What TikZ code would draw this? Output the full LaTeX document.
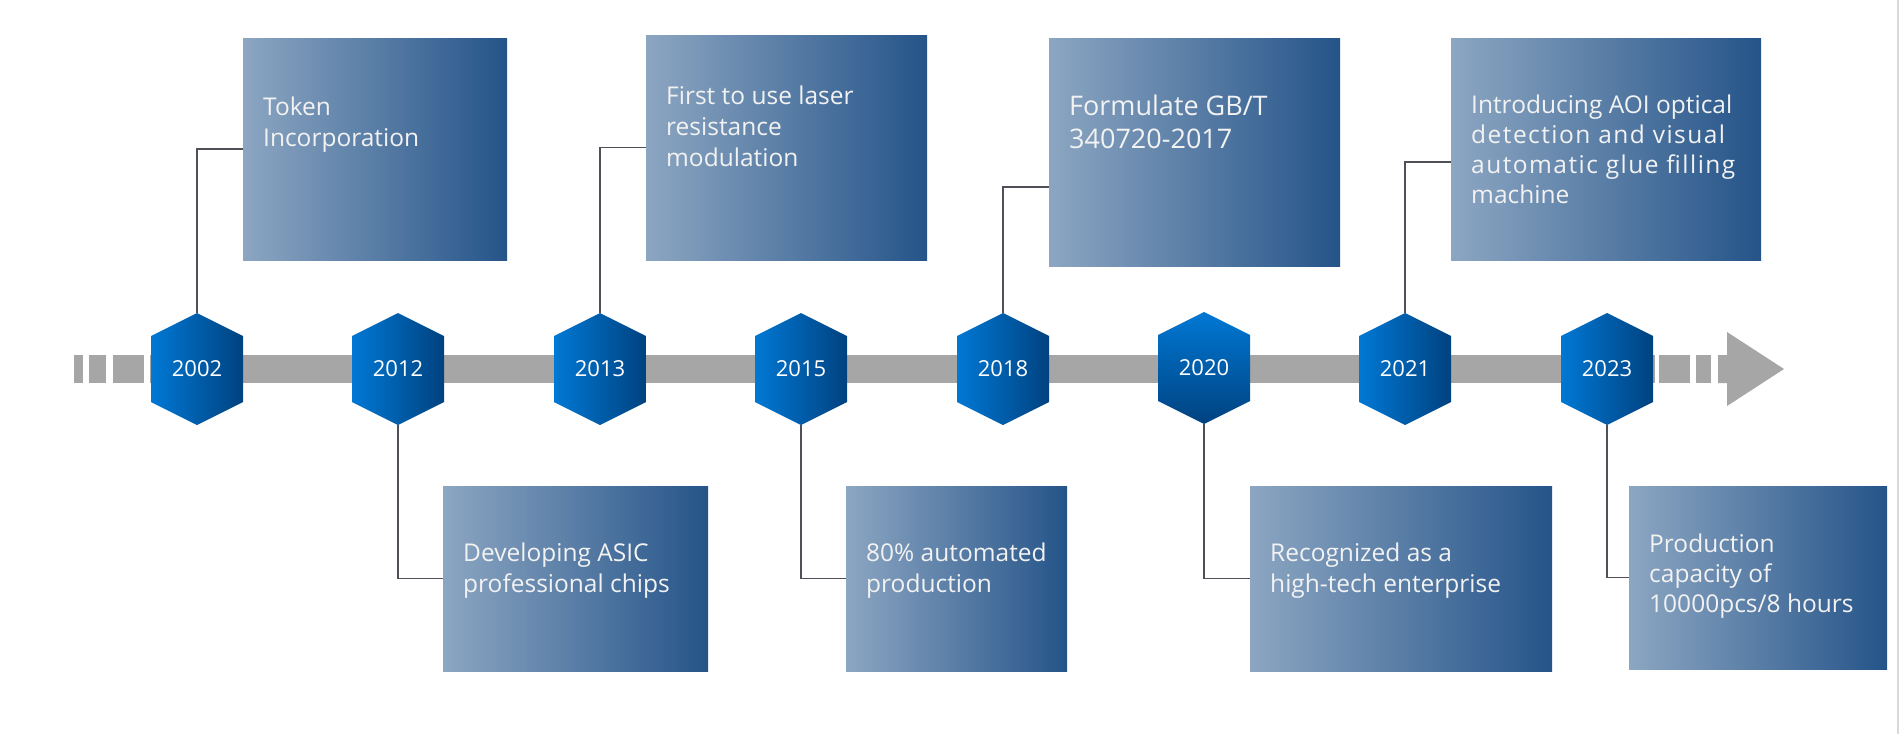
\documentclass[tikz,border=0pt]{standalone}
\usepackage{fontspec}
\setmainfont{Open Sans}
\definecolor{boxlight}{RGB}{140,166,194}
\definecolor{boxdark}{RGB}{37,84,137}
\definecolor{hexlight}{RGB}{0,120,212}
\definecolor{hexdark}{RGB}{0,66,128}
\definecolor{bargray}{RGB}{166,166,166}
\definecolor{linkgray}{RGB}{80,80,88}
\begin{document}
\begin{tikzpicture}[x=1pt, y=-1pt,
    bar/.style={fill=bargray},
    box/.style={left color=boxlight, right color=boxdark, draw=none, inner sep=0pt},
    txt/.style={text=white!95!black, align=left, anchor=base west, inner sep=0pt, font=\fontsize{24.5}{31}\selectfont},
    year/.style={minimum width=92, minimum height=112, inner sep=0pt, text=white, font=\fontsize{22}{26}\selectfont},
    hex/.style={left color=hexlight, middle color=hexlight!85!hexdark, right color=hexdark},
    link/.style={draw=linkgray, line width=1.5pt}
]
\useasboundingbox[fill=white] (0,0) rectangle (1903,734);
\draw[black!15, line width=2.5pt] (1898,0) -- (1898,734);

% time bar
\fill[bar] (150,355) rectangle (1655,383);
\fill[bar] (74,355) rectangle (83,383);
\fill[bar] (89,355) rectangle (106,383);
\fill[bar] (113,355) rectangle (144,383);
\fill[bar] (1659,355) rectangle (1690,383);
\fill[bar] (1696,355) rectangle (1711,383);
\fill[bar] (1718,355) -- (1727,355) -- (1727,332) -- (1784,369) -- (1727,406) -- (1727,383) -- (1718,383) -- cycle;

% years
\foreach \yr/\x in {2002/197, 2012/398, 2013/600, 2015/801, 2018/1003, 2021/1405, 2023/1607} {
  \shade[hex] (\x,313) -- (\x+46,336) -- (\x+46,402) -- (\x,425) -- (\x-46,402) -- (\x-46,336) -- cycle;
  \node[year] (y\yr) at (\x,369) {\yr};
}
\shade[top color=hexlight, middle color=hexlight, bottom color=hexdark] (1204,312) -- (1250,335) -- (1250,401) -- (1204,424) -- (1158,401) -- (1158,335) -- cycle;
\node[year] (y2020) at (1204,368) {2020};

% boxes above
\node[box, minimum width=264, minimum height=222] (b2002) at (375,149) {};
\node[box, minimum width=281, minimum height=225] (b2013) at (786.5,147.5) {};
\node[box, minimum width=291, minimum height=228] (b2018) at (1194.5,152) {};
\node[box, minimum width=310, minimum height=222] (b2021) at (1606,149) {};

% boxes below
\node[box, minimum width=265, minimum height=185] (b2012) at (575.5,578.5) {};
\node[box, minimum width=221, minimum height=185] (b2015) at (956.5,578.5) {};
\node[box, minimum width=302, minimum height=185] (b2020) at (1401,578.5) {};
\node[box, minimum width=258, minimum height=183] (b2023) at (1758,577.5) {};

% texts, placed at the baseline of their last line
\node[txt] (t2002) at (263,146) {Token\\Incorporation};
\node[txt] (t2013) at (666,166) {First to use laser\\resistance\\modulation};
\node[txt, font=\fontsize{27}{33}\selectfont] (t2018) at (1069,148) {Formulate GB/T\\340720-2017};
\node[txt, font=\fontsize{24.5}{30}\selectfont] (t2021) at (1471,203) {Introducing AOI optical\\{\addfontfeature{LetterSpace=6}detection and visual}\\{\addfontfeature{LetterSpace=6}automatic glue filling}\\machine};
\node[txt] (t2012) at (463,592) {Developing ASIC\\professional chips};
\node[txt] (t2015) at (866,592) {80\% automated\\production};
\node[txt] (t2020) at (1270,592) {Recognized as a\\high-tech enterprise};
\node[txt, font=\fontsize{24.5}{30}\selectfont] (t2023) at (1649,612) {Production\\capacity of\\10000pcs/8 hours};

% links
\draw[link] (y2002.north) |- (b2002.west);
\draw[link] (y2013.north) |- (b2013.west);
\draw[link] (y2018.north) |- ([yshift=-35pt]b2018.west);
\draw[link] (y2021.north) |- ([yshift=-13pt]b2021.west);
\draw[link] (y2012.south) |- (b2012.west);
\draw[link] (y2015.south) |- (b2015.west);
\draw[link] (y2020.south) |- (b2020.west);
\draw[link] (y2023.south) |- (b2023.west);
\end{tikzpicture}
\end{document}
